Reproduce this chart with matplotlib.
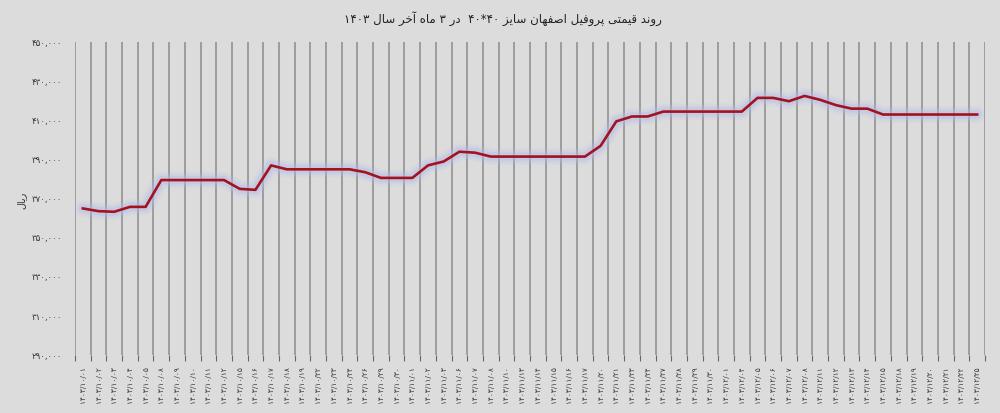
import re
import matplotlib
matplotlib.use("Agg")
import matplotlib.pyplot as plt
import numpy as np

# تاریخ‌ها (۱۴۰۳)
dates = [
    "10/01", "10/02", "10/03", "10/04", "10/05", "10/08", "10/09", "10/10", "10/11", "10/12",
    "10/15", "10/16", "10/17", "10/18", "10/19", "10/22", "10/23", "10/24", "10/26", "10/29", "10/30",
    "11/01", "11/02", "11/03", "11/06", "11/07", "11/08", "11/10", "11/13", "11/14", "11/15",
    "11/16", "11/17", "11/20", "11/21", "11/23", "11/24", "11/27", "11/28", "11/29", "11/30",
    "12/01", "12/04", "12/05", "12/06", "12/07", "12/08", "12/11", "12/12", "12/13", "12/14",
    "12/15", "12/18", "12/19", "12/20", "12/21", "12/22", "12/25",
]

# قیمت (ریال)
prices = [
    365000, 363600, 363300, 365800, 365800, 379500, 379500, 379500, 379500, 379500,
    375000, 374500, 387000, 385000, 385000, 385000, 385000, 385000, 383500, 380600, 380600,
    380600, 387000, 389000, 394000, 393500, 391500, 391500, 391500, 391500, 391500,
    391500, 391500, 397000, 409500, 412000, 412000, 414500, 414500, 414500, 414500,
    414500, 414500, 421500, 421500, 419800, 422500, 420500, 417800, 416000, 416000,
    413000, 413000, 413000, 413000, 413000, 413000, 413000,
]

yticks = [290000, 310000, 330000, 350000, 370000, 390000, 410000, 430000, 450000]

title = "روند قیمتی پروفیل اصفهان سایز ۴۰*۴۰  در ۳ ماه آخر سال ۱۴۰۳"
ylabel = "ریال"

# شکل‌دهی ساده حروف فارسی (بدون arabic_reshaper)
FORMS = {
    "\u0627": ("\uFE8D", "\uFE8E", None, None),
    "\u0622": ("\uFE81", "\uFE82", None, None),
    "\u067E": ("\uFB56", "\uFB57", "\uFB58", "\uFB59"),
    "\u062A": ("\uFE95", "\uFE96", "\uFE97", "\uFE98"),
    "\u062E": ("\uFEA5", "\uFEA6", "\uFEA7", "\uFEA8"),
    "\u062F": ("\uFEA9", "\uFEAA", None, None),
    "\u0631": ("\uFEAD", "\uFEAE", None, None),
    "\u0632": ("\uFEAF", "\uFEB0", None, None),
    "\u0633": ("\uFEB1", "\uFEB2", "\uFEB3", "\uFEB4"),
    "\u0635": ("\uFEB9", "\uFEBA", "\uFEBB", "\uFEBC"),
    "\u0641": ("\uFED1", "\uFED2", "\uFED3", "\uFED4"),
    "\u0642": ("\uFED5", "\uFED6", "\uFED7", "\uFED8"),
    "\u0644": ("\uFEDD", "\uFEDE", "\uFEDF", "\uFEE0"),
    "\u0645": ("\uFEE1", "\uFEE2", "\uFEE3", "\uFEE4"),
    "\u0646": ("\uFEE5", "\uFEE6", "\uFEE7", "\uFEE8"),
    "\u0647": ("\uFEE9", "\uFEEA", "\uFEEB", "\uFEEC"),
    "\u0648": ("\uFEED", "\uFEEE", None, None),
    "\u06CC": ("\uFBFC", "\uFBFD", "\uFBFE", "\uFBFF"),
}


def fa(s):
    out = []
    for i, c in enumerate(s):
        if c not in FORMS:
            out.append(c)
            continue
        prev = s[i - 1] if i > 0 else ""
        nxt = s[i + 1] if i + 1 < len(s) else ""
        p = prev in FORMS and FORMS[prev][2] is not None
        n = FORMS[c][2] is not None and nxt in FORMS
        iso, fin, ini, med = FORMS[c]
        out.append(med if p and n else fin if p else ini if n else iso)
    s = "".join(out)
    tokens = re.findall(r"[\u06F0-\u06F90-9][\u06F0-\u06F90-9*/,.]*|.", s)
    return "".join(reversed(tokens))


def fa_digits(s):
    return s.translate(str.maketrans("0123456789", "۰۱۲۳۴۵۶۷۸۹"))


plt.rcParams["font.family"] = ["DejaVu Sans"]
bg = "#dcdcdc"

fig = plt.figure(figsize=(10, 4.13), dpi=100, facecolor=bg)
ax = fig.add_axes([0.075, 0.14, 0.91, 0.758], facecolor=bg)

x = np.arange(len(prices))
# هاله آبی دور خط
for lw, a in [(12, 0.12), (9, 0.2), (6, 0.35)]:
    ax.plot(x, prices, color="#b3bce8", lw=lw, alpha=a, solid_capstyle="round",
            solid_joinstyle="round", zorder=3)
ax.plot(x, prices, color="#a3121f", lw=1.9, zorder=4, solid_joinstyle="round")

ax.set_xlim(-0.5, len(prices) - 0.5)
ax.set_ylim(290000, 450000)

ax.set_xticks(x)
ax.set_xticklabels([fa_digits("1403/" + d) for d in dates], rotation=90,
                   fontsize=5.3, color="#333333")
ax.set_xticks(np.arange(len(prices) + 1) - 0.5, minor=True)
ax.tick_params(axis="x", which="major", length=0, pad=8)
ax.tick_params(axis="x", which="minor", length=4, color="#666666", width=0.8)
ax.grid(True, axis="x", which="minor", color="#929292", lw=1.2, zorder=1)

ax.set_yticks(yticks)
ax.set_yticklabels([fa_digits(f"{v:,}") for v in yticks], fontsize=6.2, color="#333333")
ax.tick_params(axis="y", length=0, pad=9)

for s in ax.spines.values():
    s.set_visible(False)

fig.text(0.503, 0.956, fa(title), ha="center", va="center", fontsize=8.5, color="#222222")
fig.text(0.021, 0.515, fa(ylabel), ha="center", va="center", rotation=90,
         fontsize=7, color="#333333")

fig.savefig("out.png", dpi=100, facecolor=bg)
